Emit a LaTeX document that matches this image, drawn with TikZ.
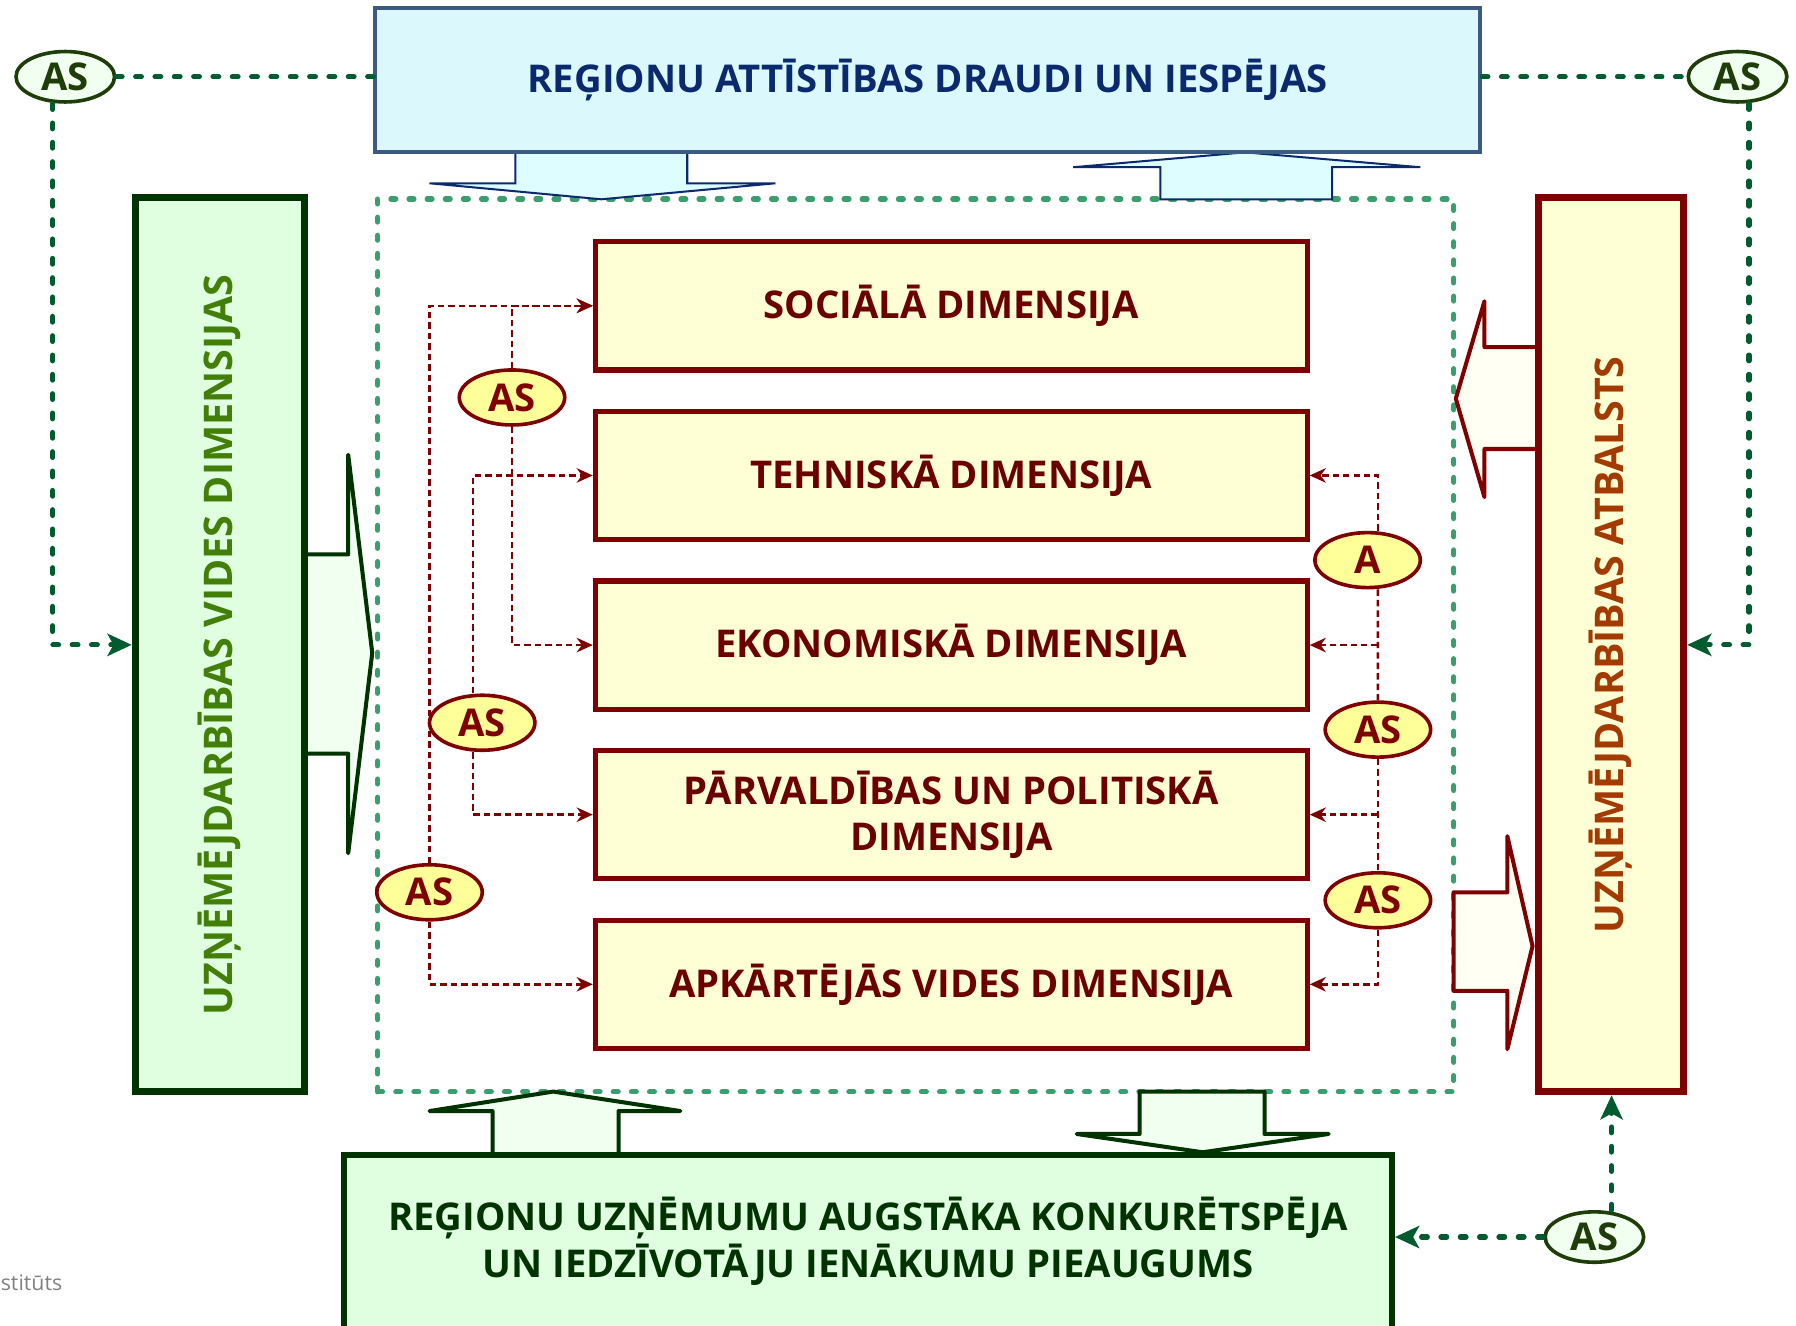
\documentclass[tikz,border=0pt]{standalone}
\usepackage{fontspec}
\setmainfont{Open Sans}
\usepackage{graphicx}
\usetikzlibrary{positioning,shapes.geometric,arrows.meta}

\definecolor{threatfill}{HTML}{DBF9FC}
\definecolor{threatline}{HTML}{3B5B82}
\definecolor{navytext}{HTML}{0B2A6E}
\definecolor{cyanarrow}{HTML}{DEFDFF}
\definecolor{darkgreen}{HTML}{003300}
\definecolor{greenfill}{HTML}{E0FFE0}
\definecolor{palegreen}{HTML}{F0FFF0}
\definecolor{olivetext}{HTML}{427F08}
\definecolor{asgreen}{HTML}{1F3D08}
\definecolor{dotgreen}{HTML}{005C2E}
\definecolor{framegreen}{HTML}{3A9E6E}
\definecolor{maroonline}{HTML}{7F0000}
\definecolor{dimfill}{HTML}{FFFFD6}
\definecolor{dimtext}{HTML}{6B0000}
\definecolor{asyellow}{HTML}{FFFF99}
\definecolor{rusttext}{HTML}{A33A00}
\definecolor{ivory}{HTML}{FFFFF4}

\begin{document}
\begin{tikzpicture}[x=0.01cm,y=-0.01cm,
	txt/.style={font=\fontsize{9.5}{11.5}\selectfont\bfseries,align=center},
	dim/.style={txt,draw=maroonline,line width=1.3pt,fill=dimfill,text=dimtext,minimum width=6.21cm,minimum height=1.12cm},
	asg/.style={txt,ellipse,draw=asgreen,line width=0.9pt,fill=palegreen,text=asgreen,inner sep=0pt,minimum width=0.86cm,minimum height=0.44cm},
	asy/.style={txt,ellipse,draw=maroonline,line width=0.9pt,fill=asyellow,text=maroonline,inner sep=0pt,minimum width=0.92cm,minimum height=0.48cm},
	asline/.style={dotgreen,line width=1.3pt,line cap=round,dash pattern=on 1.4pt off 3.4pt},
	dimline/.style={maroonline,line width=0.6pt,dash pattern=on 1.6pt off 1pt},
	gtip/.style={-{Stealth[length=6pt,width=5.5pt,inset=1.5pt]}},
	mtip/.style={-{Stealth[length=4pt,width=3.6pt]}},
	cyanblock/.style={draw=navytext,fill=cyanarrow,line width=0.5pt},
	greenblock/.style={draw=darkgreen,fill=palegreen,line width=1pt,line join=round},
	maroonblock/.style={draw=maroonline,fill=ivory,line width=1pt,line join=round}]

	\useasboundingbox (0,0) rectangle (1568,1157);

	% dashed frame round the dimensions
	\node[draw=framegreen,line width=1.3pt,line cap=round,dash pattern=on 1.2pt off 3.3pt,minimum width=9.39cm,minimum height=7.79cm] (frame) at (799.5,563.5) {};

	% block arrows
	\filldraw[cyanblock] (450,133) -- (450,160) -- (375,160) -- (525,174) -- (677,160) -- (600,160) -- (600,133) -- cycle;
	\filldraw[cyanblock] (1013,174) -- (1013,146) -- (937,146) -- (1087,133) -- (1240,146) -- (1163,146) -- (1163,174) -- cycle;
	\filldraw[greenblock] (266,484) -- (304,484) -- (304,397) -- (325,570) -- (304,745) -- (304,658) -- (266,658);
	\filldraw[maroonblock] (1343,303) -- (1296,303) -- (1296,263) -- (1271,348) -- (1296,434) -- (1296,392) -- (1343,392);
	\filldraw[maroonblock] (1269,779) -- (1316,779) -- (1316,730) -- (1338,826) -- (1316,916) -- (1316,865) -- (1269,865) -- cycle;
	\filldraw[greenblock] (430,1008) -- (430,970) -- (375,970) -- (483,953) -- (594,970) -- (540,970) -- (540,1008);
	\filldraw[greenblock] (995,953) -- (995,990) -- (940,990) -- (1050,1006) -- (1160,990) -- (1104,990) -- (1104,953) -- cycle;

	% outer boxes
	\node[txt,draw=threatline,line width=1pt,fill=threatfill,text=navytext,minimum width=9.64cm,minimum height=1.26cm] (threat) at (810,70) {REĢIONU ATTĪSTĪBAS DRAUDI UN IESPĒJAS};
	\node[txt,draw=darkgreen,line width=1.7pt,fill=greenfill,text=olivetext,minimum width=1.48cm,minimum height=7.8cm] (envbox) at (192,563) {\rotatebox{90}{\fontsize{9.8}{12}\selectfont UZŅĒMĒJDARBĪBAS VIDES DIMENSIJAS}};
	\node[txt,draw=maroonline,line width=1.7pt,fill=dimfill,text=rusttext,minimum width=1.27cm,minimum height=7.8cm] (support) at (1406.5,563) {\rotatebox{90}{\fontsize{9.8}{12}\selectfont UZŅĒMĒJDARBĪBAS ATBALSTS}};
	\node[txt,draw=darkgreen,line width=1.5pt,fill=greenfill,text=darkgreen,minimum width=9.14cm,minimum height=1.6cm,text depth=0.15cm,font=\fontsize{9.5}{11.7}\selectfont\bfseries] (result) at (758,1088) {REĢIONU UZŅĒMUMU AUGSTĀKA KONKURĒTSPĒJA\\UN IEDZĪVOTĀJU IENĀKUMU PIEAUGUMS};

	% dimensions
	\node[dim] (soc) at (830.5,267) {SOCIĀLĀ DIMENSIJA};
	\node[dim] (tech) [below of=soc, node distance=1.48cm] {TEHNISKĀ DIMENSIJA};
	\node[dim] (eco) [below of=tech, node distance=1.48cm] {EKONOMISKĀ DIMENSIJA};
	\node[dim] (pol) [below of=eco, node distance=1.48cm] {PĀRVALDĪBAS UN POLITISKĀ\\DIMENSIJA};
	\node[dim] (env) [below of=pol, node distance=1.48cm] {APKĀRTĒJĀS VIDES DIMENSIJA};

	% AS marks
	\node[asg] (asTL) at (57,67) {AS};
	\node[asg] (asTR) at (1517,67) {AS};
	\node[asg] (asBR) at (1392,1080) {AS};
	\node[asy] (asA) at (447,347) {AS};
	\node[asy] (asB) at (421,631) {AS};
	\node[asy] (asC) at (375,779) {AS};
	\node[asy] (asR1) at (1194,489) {A};
	\node[asy] (asR2) at (1203,637) {AS};
	\node[asy] (asR3) at (1203,786) {AS};

	% green dotted links
	\draw[asline] (asTL.east) -- (asTL.east -| threat.west);
	\draw[asline,gtip] ([xshift=-0.11cm]asTL.south) |- (envbox.west);
	\draw[asline] (asTR.west -| threat.east) -- (asTR.west);
	\draw[asline,gtip] ([xshift=0.1cm]asTR.south) |- (support.east);
	\draw[asline,gtip] (asBR.west) -- (asBR.west -| result.east);
	\draw[asline,gtip] ([xshift=0.15cm]asBR.north) -- ([xshift=0.15cm]asBR.north |- support.south);

	% maroon links to the dimensions
	\draw[dimline,mtip] (asC.north) |- (soc.west);
	\draw[dimline,mtip] (asC.south) |- (env.west);
	\draw[dimline,mtip] (asA.north) |- (soc.west);
	\draw[dimline,mtip] (asA.south) |- (eco.west);
	\draw[dimline,mtip] ([xshift=-0.08cm]asB.north) |- (tech.west);
	\draw[dimline,mtip] ([xshift=-0.08cm]asB.south) |- (pol.west);
	\draw[dimline,mtip] ([xshift=0.09cm]asR1.north) |- (tech.east);
	\draw[dimline] ([xshift=0.09cm]asR1.south) -- (asR2.north);
	\draw[dimline,mtip] (eco.east -| asR2) -- (eco.east);
	\draw[dimline] (asR2.south) -- (asR3.north);
	\draw[dimline,mtip] (pol.east -| asR2) -- (pol.east);
	\draw[dimline,mtip] (asR3.south) |- (env.east);

	\node[anchor=west,inner sep=0pt,text=gray,font=\fontsize{5.3}{7}\selectfont] (credit) at (0,1120) {stitūts};

\end{tikzpicture}
\end{document}
